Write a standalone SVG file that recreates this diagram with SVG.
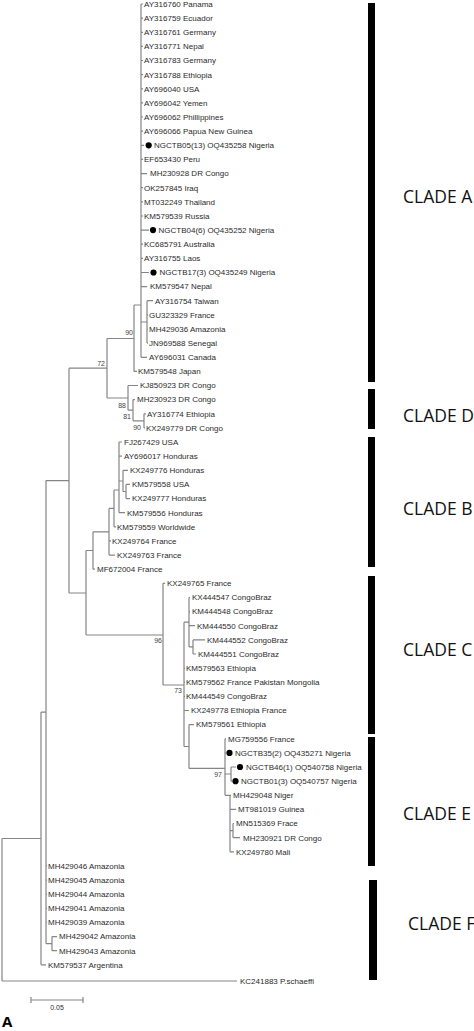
<svg xmlns="http://www.w3.org/2000/svg" width="474" height="1031" viewBox="0 0 474 1031">
<style>
.t{font-family:"Liberation Sans",Arial,sans-serif;font-size:8px;fill:#2b2b2b}
.b{font-family:"Liberation Sans",Arial,sans-serif;font-size:7px;fill:#444;text-anchor:end}
.e{stroke:#858585;stroke-width:1.2;fill:none}
.d{fill:#000}
.bar{fill:#000}
.cl{font-family:"Open Sans","Liberation Sans",sans-serif;font-size:17.5px;fill:#111}
</style>
<rect width="474" height="1031" fill="#fff"/>
<g id="connectors" class="e">
<path d="M141 4V357.3"/>
<path d="M141 4H143M141 18.1H143M141 32.3H143M141 46.4H143M141 60.5H143M141 74.7H143M141 88.8H143M141 102.9H143M141 117H143M141 131.2H143M141 145.3H144M141 159.4H143M141 187.7H143M141 201.8H143M141 216H143M141 244.2H143M141 258.3H143"/>
<path d="M141 173.6H147M141 230.1H149M141 272.5H149M141 286.6H147M141 357.3H147"/>
<path d="M141 322H147M147 300.7V343.1M147 300.7H153M147 314.9H148M147 329H148M147 343.1H148"/>
<path d="M134 305V371.4M134 305H141M134 371.4H137"/>
<path d="M107 338.5V398M107 338.5H134M107 398H128"/>
<path d="M128 385.5V410.2M128 385.5H138M128 410.2H133"/>
<path d="M133 399.6V420.8M133 399.6H135M133 420.8H144"/>
<path d="M144 413.8V427.9M144 413.8H146M144 427.9H145"/>
<path d="M69 368.2V593M69 368.2H107M69 593H86"/>
<path d="M86 550.5V635M86 550.5H93M86 635H163"/>
<path d="M93 531.8V569.2M93 531.8H109M93 569.2H95"/>
<path d="M109 508.4V555.1M109 508.4H114M109 540.9H111M109 555.1H115"/>
<path d="M114 490V526.8M114 490H119M114 526.8H116"/>
<path d="M119 442V512.7M119 442H122M119 456.2H122M119 481H123M119 512.7H125"/>
<path d="M123 470.3V491.5M123 470.3H128M123 491.5H126"/>
<path d="M126 484.4V498.6M126 484.4H130M126 498.6H130"/>
<path d="M163 583.3V685M163 583.3H165M163 685H184"/>
<path d="M184 622.2V746.5M184 622.2H189M184 668.1H185M184 682.2H185M184 696.4H185M184 710.5H189M184 746.5H189"/>
<path d="M189 597.5V646.9M189 597.5H190M189 611.6H190M189 625.7H195M189 646.9H193"/>
<path d="M193 639.9V654M193 639.9H205M193 654H196"/>
<path d="M189 724.6V768.4M189 724.6H194M189 768.4H225"/>
<path d="M225 738.8V795.3M225 738.8H226M225 752.9H226M225 774H231M225 795.3H231"/>
<path d="M231 767V781.2M231 767H236M231 781.2H232"/>
<path d="M230 795.3V851.8M230 809.4H236M230 830.6H233M230 851.8H234"/>
<path d="M233 823.5V837.7M233 823.5H234M233 837.7H240"/>
<path d="M46 480.6V943.6M46 480.6H69M46 865.9H47M46 880.1H47M46 894.2H47M46 908.3H47M46 922.5H47M46 943.6H52"/>
<path d="M52 936.6V950.7M52 936.6H57M52 950.7H57"/>
<path d="M41 712.1V964.8M41 712.1H46M41 964.8H46"/>
<path d="M2 838.5V981M2 838.5H41M2 981H237"/>
</g>
<g id="bootstrap">
<text class="b" x="133" y="335">90</text>
<text class="b" x="105" y="366">72</text>
<text class="b" x="126" y="408">88</text>
<text class="b" x="131" y="419">81</text>
<text class="b" x="141" y="430">90</text>
<text class="b" x="162" y="643">96</text>
<text class="b" x="182" y="693">73</text>
<text class="b" x="222" y="777">97</text>
</g>
<g id="leaves" class="t">
<g id="n1"><text x="144" y="6.8">AY316760 Panama</text></g>
<g id="n2"><text x="144" y="20.9">AY316759 Ecuador</text></g>
<g id="n3"><text x="144" y="35.1">AY316761 Germany</text></g>
<g id="n4"><text x="144" y="49.2">AY316771 Nepal</text></g>
<g id="n5"><text x="144" y="63.3">AY316783 Germany</text></g>
<g id="n6"><text x="144" y="77.5">AY316788 Ethiopia</text></g>
<g id="n7"><text x="144" y="91.6">AY696040 USA</text></g>
<g id="n8"><text x="144" y="105.7">AY696042 Yemen</text></g>
<g id="n9"><text x="144" y="119.8">AY696062 Phillippines</text></g>
<g id="n10"><text x="144" y="134">AY696066 Papua New Guinea</text></g>
<g id="n11"><circle class="d" cx="148.7" cy="145.3" r="3.1"/><text x="154" y="148.1">NGCTB05(13) OQ435258 Nigeria</text></g>
<g id="n12"><text x="144" y="162.2">EF653430 Peru</text></g>
<g id="n13"><text x="150" y="176.4">MH230928 DR Congo</text></g>
<g id="n14"><text x="144" y="190.5">OK257845 Iraq</text></g>
<g id="n15"><text x="144" y="204.6">MT032249 Thailand</text></g>
<g id="n16"><text x="144" y="218.8">KM579539 Russia</text></g>
<g id="n17"><circle class="d" cx="153" cy="230.1" r="3.1"/><text x="158.5" y="232.9">NGCTB04(6) OQ435252 Nigeria</text></g>
<g id="n18"><text x="144" y="247">KC685791 Australia</text></g>
<g id="n19"><text x="144" y="261.1">AY316755 Laos</text></g>
<g id="n20"><circle class="d" cx="153.5" cy="272.5" r="3.1"/><text x="159.5" y="275.3">NGCTB17(3) OQ435249 Nigeria</text></g>
<g id="n21"><text x="150" y="289.4">KM579547 Nepal</text></g>
<g id="n22"><text x="155" y="303.5">AY316754 Taiwan</text></g>
<g id="n23"><text x="149" y="317.7">GU323329 France</text></g>
<g id="n24"><text x="149" y="331.8">MH429036 Amazonia</text></g>
<g id="n25"><text x="149" y="345.9">JN969588 Senegal</text></g>
<g id="n26"><text x="149" y="360.1">AY696031 Canada</text></g>
<g id="n27"><text x="138" y="374.2">KM579548 Japan</text></g>
<g id="n28"><text x="140" y="388.3">KJ850923 DR Congo</text></g>
<g id="n29"><text x="137" y="402.4">MH230923 DR Congo</text></g>
<g id="n30"><text x="147" y="416.6">AY316774 Ethiopia</text></g>
<g id="n31"><text x="146" y="430.7">KX249779 DR Congo</text></g>
<g id="n32"><text x="124" y="444.8">FJ267429 USA</text></g>
<g id="n33"><text x="124" y="459">AY696017 Honduras</text></g>
<g id="n34"><text x="130" y="473.1">KX249776 Honduras</text></g>
<g id="n35"><text x="132" y="487.2">KM579558 USA</text></g>
<g id="n36"><text x="132" y="501.4">KX249777 Honduras</text></g>
<g id="n37"><text x="127" y="515.5">KM579556 Honduras</text></g>
<g id="n38"><text x="117" y="529.6">KM579559 Worldwide</text></g>
<g id="n39"><text x="112" y="543.7">KX249764 France</text></g>
<g id="n40"><text x="117" y="557.9">KX249763 France</text></g>
<g id="n41"><text x="97" y="572">MF672004 France</text></g>
<g id="n42"><text x="167" y="586.1">KX249765 France</text></g>
<g id="n43"><text x="192" y="600.3">KX444547 CongoBraz</text></g>
<g id="n44"><text x="192" y="614.4">KM444548 CongoBraz</text></g>
<g id="n45"><text x="197" y="628.5">KM444550 CongoBraz</text></g>
<g id="n46"><text x="207" y="642.7">KM444552 CongoBraz</text></g>
<g id="n47"><text x="198" y="656.8">KM444551 CongoBraz</text></g>
<g id="n48"><text x="186" y="670.9">KM579563 Ethiopia</text></g>
<g id="n49"><text x="186" y="685">KM579562 France Pakistan Mongolia</text></g>
<g id="n50"><text x="186" y="699.2">KM444549 CongoBraz</text></g>
<g id="n51"><text x="191" y="713.3">KX249778 Ethiopia France</text></g>
<g id="n52"><text x="196" y="727.4">KM579561 Ethiopia</text></g>
<g id="n53"><text x="228" y="741.6">MG759556 France</text></g>
<g id="n54"><circle class="d" cx="229.5" cy="752.9" r="3.1"/><text x="235" y="755.7">NGCTB35(2) OQ435271 Nigeria</text></g>
<g id="n55"><circle class="d" cx="240" cy="767" r="3.1"/><text x="246" y="769.8">NGCTB46(1) OQ540758 Nigeria</text></g>
<g id="n56"><circle class="d" cx="235.5" cy="781.2" r="3.1"/><text x="241" y="784">NGCTB01(3) OQ540757 Nigeria</text></g>
<g id="n57"><text x="233" y="798.1">MH429048 Niger</text></g>
<g id="n58"><text x="238" y="812.2">MT981019 Guinea</text></g>
<g id="n59"><text x="236" y="826.3">MN515369 Frace</text></g>
<g id="n60"><text x="243" y="840.5">MH230921 DR Congo</text></g>
<g id="n61"><text x="236" y="854.6">KX249780 Mali</text></g>
<g id="n62"><text x="48" y="868.7">MH429046 Amazonia</text></g>
<g id="n63"><text x="48" y="882.9">MH429045 Amazonia</text></g>
<g id="n64"><text x="48" y="897">MH429044 Amazonia</text></g>
<g id="n65"><text x="48" y="911.1">MH429041 Amazonia</text></g>
<g id="n66"><text x="48" y="925.3">MH429039 Amazonia</text></g>
<g id="n67"><text x="59" y="939.4">MH429042 Amazonia</text></g>
<g id="n68"><text x="59" y="953.5">MH429043 Amazonia</text></g>
<g id="n69"><text x="48" y="967.6">KM579537 Argentina</text></g>
<g id="n70"><text x="240" y="983.8">KC241883 P.schaeffi</text></g>
</g>
<g id="clades">
<g id="cladeA"><rect class="bar" x="368" y="3" width="7" height="379"/><text class="cl" x="403" y="203">CLADE A</text></g>
<g id="cladeD"><rect class="bar" x="368" y="389" width="7" height="40"/><text class="cl" x="403" y="422">CLADE D</text></g>
<g id="cladeB"><rect class="bar" x="368" y="437" width="7" height="130"/><text class="cl" x="403" y="515">CLADE B</text></g>
<g id="cladeC"><rect class="bar" x="368" y="576" width="7" height="158"/><text class="cl" x="403" y="656">CLADE C</text></g>
<g id="cladeE"><rect class="bar" x="368" y="737" width="7" height="129"/><text class="cl" x="403" y="820">CLADE E</text></g>
<g id="cladeF"><rect class="bar" x="369" y="880" width="8" height="100"/><text class="cl" x="408" y="930">CLADE F</text></g>
</g>
<g id="scalebar">
<path class="e" d="M31 1000H83M31 997V1003M83 997V1003"/>
<text class="t" style="font-size:7px" x="57" y="1010" text-anchor="middle">0.05</text>
</g>
<text x="2" y="1027" style="font-family:'Open Sans','Liberation Sans',sans-serif;font-size:15px;font-weight:bold;fill:#000">A</text>
</svg>
